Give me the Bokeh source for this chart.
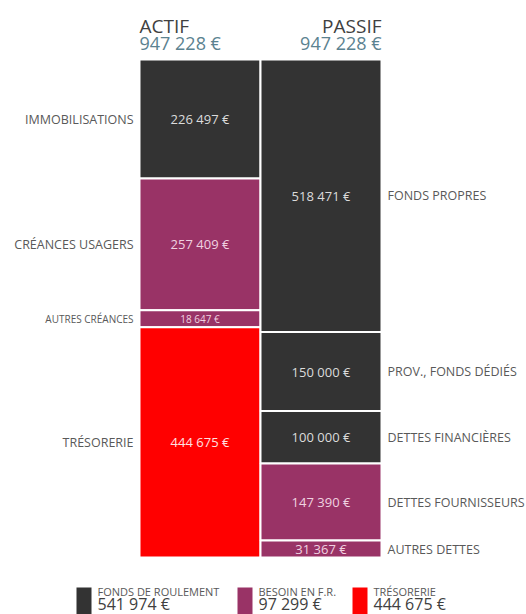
from bokeh.plotting import figure
from bokeh.models import Range1d, ColumnDataSource
from bokeh.core.properties import value
from bokeh.embed import file_html
from bokeh.resources import INLINE

# ---- data ----
actif_labels = ["IMMOBILISATIONS", "CRÉANCES USAGERS", "AUTRES CRÉANCES", "TRÉSORERIE"]
actif_values = [226497, 257409, 18647, 444675]
actif_kinds = ["fr", "bfr", "bfr", "tres"]

passif_labels = ["FONDS PROPRES", "PROV., FONDS DÉDIÉS", "DETTES FINANCIÈRES", "DETTES FOURNISSEURS", "AUTRES DETTES"]
passif_values = [518471, 150000, 100000, 147390, 31367]
passif_kinds = ["fr", "fr", "fr", "bfr", "bfr"]

legend_labels = ["FONDS DE ROULEMENT", "BESOIN EN F.R.", "TRÉSORERIE"]
legend_values = [541974, 97299, 444675]
legend_kinds = ["fr", "bfr", "tres"]

headers = ["ACTIF", "PASSIF"]

# ---- style ----
COL = {"fr": "#333333", "bfr": "#993366", "tres": "#ff0000"}
INTXT = {"fr": "#dcdcdc", "bfr": "#f0d2e0", "tres": "#ffe0e0"}
FONT = value("Open Sans")
GREY = "#595959"
TEAL = "#5b8290"


def fmt(v):
    return "{:,}".format(v).replace(",", " ") + " €"


total = sum(actif_values)

W, H = 526, 614
TOP_PX, BOT_PX = 59, 557
per_px = total / (BOT_PX - TOP_PX)
MIN_SEG = 17 * per_px  # minimum displayed segment height


def ey(page_y):
    return (BOT_PX - page_y) * per_px


p = figure(width=W, height=H, output_backend="svg", toolbar_location=None,
           x_range=Range1d(0, W), y_range=Range1d(ey(H), ey(0)),
           min_border=0, outline_line_color=None)
p.axis.visible = False
p.grid.visible = False
p.background_fill_color = "white"
p.border_fill_color = "white"

AX0, AX1 = 139, 260
PX0, PX1 = 260, 381


def display_sizes(values):
    d = [float(v) for v in values]
    for i, v in enumerate(values):
        if v < MIN_SEG:
            extra = MIN_SEG - v
            d[i] = MIN_SEG
            nb = [j for j in (i - 1, i + 1) if 0 <= j < len(values)]
            for j in nb:
                d[j] -= extra / len(nb)
    return d


def column(labels, values, kinds, x0, x1, side):
    sizes = display_sizes(values)
    tops, bots = [], []
    acc = total
    for s in sizes:
        tops.append(acc)
        acc -= s
        bots.append(acc)
    small = [v < 25000 for v in values]
    src = ColumnDataSource(dict(
        left=[x0] * len(values), right=[x1] * len(values),
        top=tops, bottom=bots,
        color=[COL[k] for k in kinds],
        mid=[(t + b) / 2 for t, b in zip(tops, bots)],
        xc=[(x0 + x1) / 2] * len(values),
        txt=[fmt(v) for v in values],
        tcol=[INTXT[k] for k in kinds],
        lab=labels,
        size=["10px" if s else "13px" for s in small],
        lsize=["10px" if s else "12.5px" for s in small],
        lx=[x0 - 6 if side == "left" else x1 + 6] * len(values),
    ))
    p.quad(left="left", right="right", top="top", bottom="bottom", source=src,
           fill_color="color", line_color="white", line_width=2)
    p.text(x="xc", y="mid", text="txt", source=src, text_color="tcol",
           text_font=FONT, text_font_size="size", text_align="center",
           text_baseline="middle")
    p.text(x="lx", y="mid", text="lab", source=src, text_color=GREY,
           text_font=FONT, text_font_size="lsize",
           text_align="right" if side == "left" else "left",
           text_baseline="middle")


column(actif_labels, actif_values, actif_kinds, AX0, AX1, "left")
column(passif_labels, passif_values, passif_kinds, PX0, PX1, "right")

# headers
p.text(x=[AX0], y=[ey(12)], text=[headers[0]], text_color="#404040",
       text_font=FONT, text_font_size="19px", text_align="left", text_baseline="top")
p.text(x=[PX1], y=[ey(12)], text=[headers[1]], text_color="#404040",
       text_font=FONT, text_font_size="19px", text_align="right", text_baseline="top")
p.text(x=[AX0], y=[ey(30)], text=[fmt(sum(actif_values))], text_color=TEAL,
       text_font=FONT, text_font_size="18px", text_align="left", text_baseline="top")
p.text(x=[PX1], y=[ey(30)], text=[fmt(sum(passif_values))], text_color=TEAL,
       text_font=FONT, text_font_size="18px", text_align="right", text_baseline="top")

# legend
LX = [76, 237, 352]
sq_top, sq_bot = 587, 614
p.quad(left=LX, right=[x + 15 for x in LX], top=[ey(sq_top)] * 3, bottom=[ey(sq_bot)] * 3,
       fill_color=[COL[k] for k in legend_kinds], line_color=None)
p.text(x=[x + 21 for x in LX], y=[ey(sq_top - 4)] * 3, text=legend_labels, text_color=GREY,
       text_font=FONT, text_font_size="11px", text_align="left", text_baseline="top")
p.text(x=[x + 21 for x in LX], y=[ey(sq_top + 5)] * 3, text=[fmt(v) for v in legend_values],
       text_color="#404040", text_font=FONT, text_font_size="16px", text_align="left",
       text_baseline="top")

open("out.html", "w").write(file_html(p, INLINE))
